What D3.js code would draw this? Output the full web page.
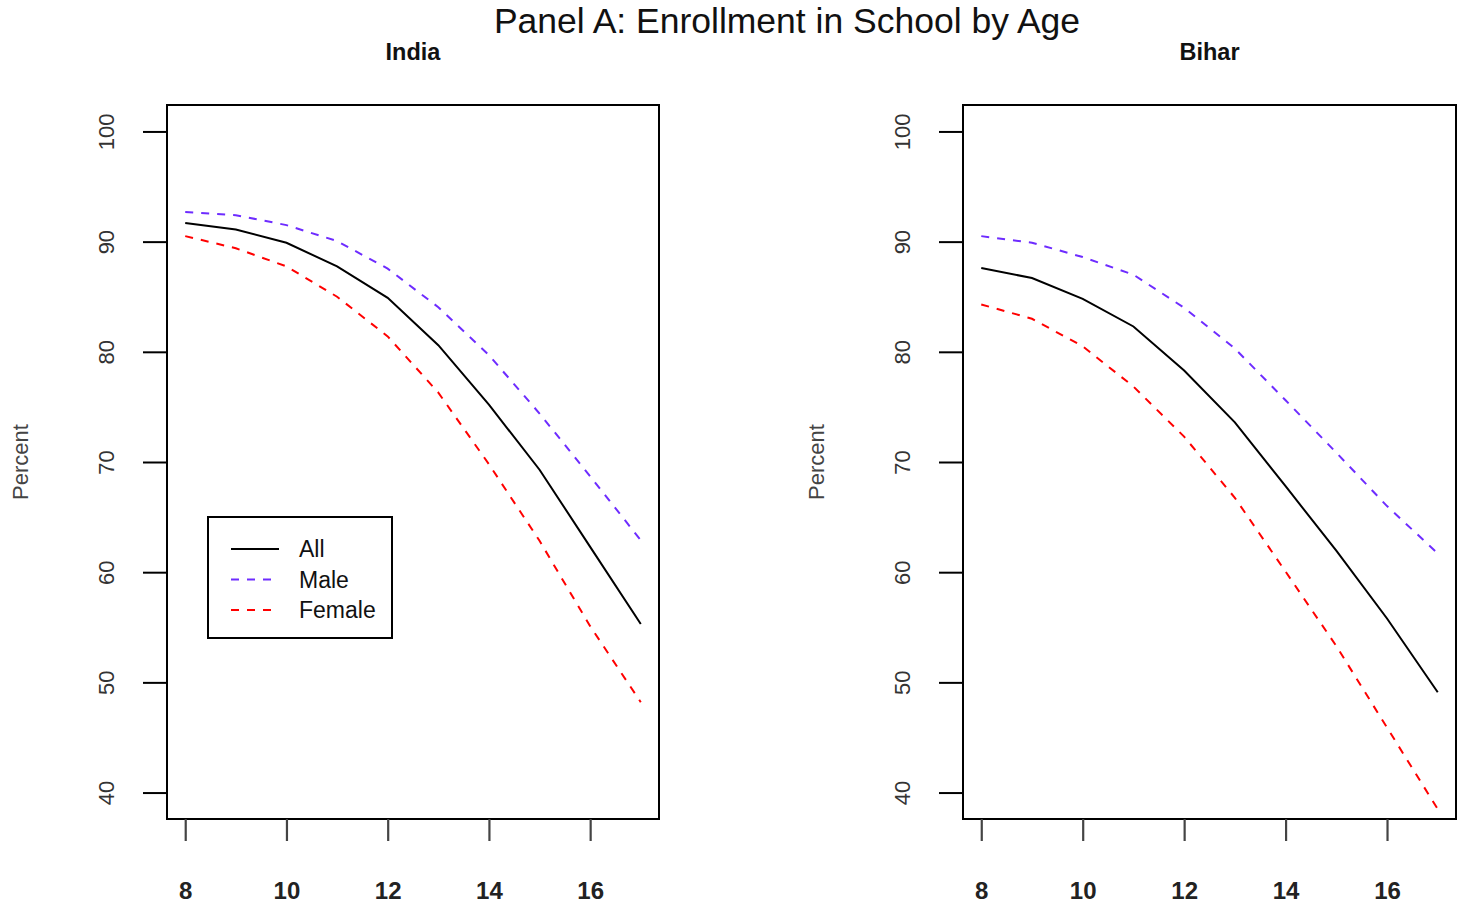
<!DOCTYPE html>
<html>
<head>
<meta charset="utf-8">
<script src="https://cdn.jsdelivr.net/npm/d3@7"></script>
<style>
  html, body { margin: 0; padding: 0; background: #fff; }
  svg { display: block; }
  text { font-family: "Liberation Sans", Arial, Helvetica, sans-serif; }
</style>
</head>
<body>
<svg id="chart" width="1460" height="907"></svg>
<script>
// ---- data ----
const ages = [8, 9, 10, 11, 12, 13, 14, 15, 16, 17];
const indiaAll    = [91.7, 91.1, 89.9, 87.75, 84.9, 80.6, 75.2, 69.3, 62.3, 55.3];
const indiaMale   = [92.7, 92.4, 91.5, 90.05, 87.55, 84.05, 79.7, 74.4, 68.7, 62.9];
const indiaFemale = [90.5, 89.4, 87.75, 85.0, 81.4, 76.3, 69.8, 62.85, 55.1, 48.2];
const biharAll    = [87.6, 86.7, 84.8, 82.3, 78.3, 73.6, 67.8, 61.95, 55.8, 49.1];
const biharMale   = [90.5, 89.9, 88.6, 87.0, 84.0, 80.3, 75.6, 70.85, 66.0, 61.7];
const biharFemale = [84.3, 83.0, 80.5, 76.85, 72.3, 66.75, 60.05, 53.3, 45.9, 38.5];
const xTicks = [8, 10, 12, 14, 16];
const yTicks = [40, 50, 60, 70, 80, 90, 100];
const seriesNames = ["All", "Male", "Female"];
const panelTitles = ["India", "Bihar"];
const mainTitle = "Panel A: Enrollment in School by Age";
const yLabel = "Percent";

// ---- styles ----
const colors = { All: "#000000", Male: "#6e2cff", Female: "#ff0000" };
const dashes = { All: null, Male: "8,8", Female: "8,8" };

const svg = d3.select("#chart");

svg.append("text")
  .attr("x", 787).attr("y", 33)
  .attr("text-anchor", "middle")
  .attr("font-size", 35.5)
  .attr("fill", "#111")
  .text(mainTitle);

const panels = [
  { title: panelTitles[0], x0: 167, x1: 659, data: { All: indiaAll, Male: indiaMale, Female: indiaFemale }, legend: true },
  { title: panelTitles[1], x0: 963, x1: 1456, data: { All: biharAll, Male: biharMale, Female: biharFemale }, legend: false }
];
const plotTop = 105, plotBottom = 819;

panels.forEach(p => {
  const w = p.x1 - p.x0;
  const padX = w * 0.04 / 1.08;
  const h = plotBottom - plotTop;
  const padY = h * 0.04 / 1.08;
  const x = d3.scaleLinear().domain(d3.extent(ages)).range([p.x0 + padX, p.x1 - padX]);
  const y = d3.scaleLinear().domain([40, 100]).range([plotBottom - padY, plotTop + padY]);

  const g = svg.append("g");

  g.append("text")
    .attr("x", (p.x0 + p.x1) / 2).attr("y", 60)
    .attr("text-anchor", "middle")
    .attr("font-size", 23.5).attr("font-weight", "bold")
    .attr("fill", "#111")
    .text(p.title);

  seriesNames.forEach(s => {
    const line = d3.line().x((d, i) => x(ages[i])).y(d => y(d));
    g.append("path")
      .datum(p.data[s])
      .attr("d", line)
      .attr("fill", "none")
      .attr("stroke", colors[s])
      .attr("stroke-width", 2)
      .attr("stroke-dasharray", dashes[s]);
  });

  g.append("rect")
    .attr("x", p.x0).attr("y", plotTop)
    .attr("width", w).attr("height", h)
    .attr("fill", "none").attr("stroke", "#000").attr("stroke-width", 2);

  const xa = g.append("g").attr("transform", `translate(0,${plotBottom})`)
    .call(d3.axisBottom(x).tickValues(xTicks).tickSize(22).tickSizeOuter(0).tickPadding(41).tickFormat(d3.format("d")));
  xa.select(".domain").remove();
  xa.selectAll(".tick line").attr("stroke", "#444").attr("stroke-width", 2.2);
  xa.selectAll(".tick text")
    .attr("font-size", 24).attr("font-weight", "bold")
    .attr("font-family", "Liberation Sans, Arial, sans-serif")
    .attr("fill", "#222");

  const ya = g.append("g").attr("transform", `translate(${p.x0},0)`)
    .call(d3.axisLeft(y).tickValues(yTicks).tickSize(24).tickSizeOuter(0).tickFormat(d3.format("d")));
  ya.select(".domain").remove();
  ya.selectAll(".tick line").attr("stroke", "#000").attr("stroke-width", 2);
  ya.selectAll(".tick text")
    .attr("x", null).attr("dy", null)
    .attr("text-anchor", "middle")
    .attr("dominant-baseline", "central")
    .attr("transform", "translate(-61,0) rotate(-90)")
    .attr("font-size", 22)
    .attr("font-family", "Liberation Sans, Arial, sans-serif")
    .attr("fill", "#333");

  g.append("text")
    .attr("transform", `translate(${p.x0 - 147},${(plotTop + plotBottom) / 2}) rotate(-90)`)
    .attr("text-anchor", "middle")
    .attr("dominant-baseline", "central")
    .attr("font-size", 22)
    .attr("fill", "#444")
    .text(yLabel);

  if (p.legend) {
    const lx = p.x0 + 41, ly = 517, lw = 184, lh = 121;
    const lg = g.append("g");
    lg.append("rect")
      .attr("x", lx).attr("y", ly).attr("width", lw).attr("height", lh)
      .attr("fill", "#fff").attr("stroke", "#000").attr("stroke-width", 2);
    seriesNames.forEach((s, i) => {
      const yy = ly + 32 + i * 30.5;
      lg.append("line")
        .attr("x1", lx + 23).attr("x2", lx + 71)
        .attr("y1", yy).attr("y2", yy)
        .attr("stroke", colors[s]).attr("stroke-width", 2)
        .attr("stroke-dasharray", dashes[s]);
      lg.append("text")
        .attr("x", lx + 91).attr("y", yy)
        .attr("dominant-baseline", "central")
        .attr("font-size", 23)
        .attr("fill", "#111")
        .text(s);
    });
  }
});
</script>
</body>
</html>
